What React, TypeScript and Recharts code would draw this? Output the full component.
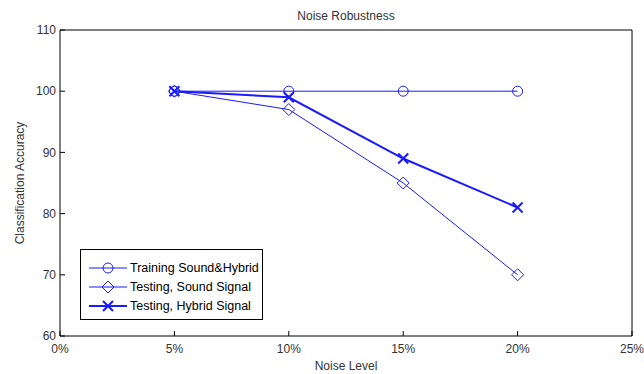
import React from "react";
import {
  LineChart,
  Line,
  XAxis,
  YAxis,
  Legend,
} from "recharts";

const noiseLevels = [5, 10, 15, 20];
const trainingSoundHybrid = [100, 100, 100, 100];
const testingSound = [100, 97, 85, 70];
const testingHybrid = [100, 99, 89, 81];

const xTicks = [0, 5, 10, 15, 20, 25];
const yTicks = [60, 70, 80, 90, 100, 110];

const seriesNames = [
  "Training Sound&Hybrid",
  "Testing, Sound Signal",
  "Testing, Hybrid Signal",
];

const data = noiseLevels.map((level, i) => ({
  level,
  training: trainingSoundHybrid[i],
  sound: testingSound[i],
  hybrid: testingHybrid[i],
}));

const BLUE = "#1a1aff";
const FONT = "'Liberation Sans', Arial, sans-serif";
const TEXT = "#333";

type Shape = "circle" | "diamond" | "cross";

function Marker({ cx, cy, shape, width }: { cx: number; cy: number; shape: Shape; width: number }) {
  if (shape === "circle") {
    return <circle cx={cx} cy={cy} r={5} fill="none" stroke={BLUE} strokeWidth={1} />;
  }
  if (shape === "diamond") {
    const s = 6;
    return (
      <path
        d={`M${cx},${cy - s}L${cx + s},${cy}L${cx},${cy + s}L${cx - s},${cy}Z`}
        fill="none"
        stroke={BLUE}
        strokeWidth={1}
      />
    );
  }
  const s = 5;
  return (
    <path
      d={`M${cx - s},${cy - s}L${cx + s},${cy + s}M${cx - s},${cy + s}L${cx + s},${cy - s}`}
      fill="none"
      stroke={BLUE}
      strokeWidth={width}
    />
  );
}

const makeDot = (shape: Shape, width: number) => (props: any) => {
  const { cx, cy, index } = props;
  if (cx == null || cy == null) return <g key={index} />;
  return <Marker key={index} cx={cx} cy={cy} shape={shape} width={width} />;
};

const legendItems: { name: string; shape: Shape; width: number }[] = [
  { name: seriesNames[0], shape: "circle", width: 1 },
  { name: seriesNames[1], shape: "diamond", width: 1 },
  { name: seriesNames[2], shape: "cross", width: 2 },
];

function LegendBox() {
  return (
    <div
      style={{
        border: "1px solid #000",
        background: "#fff",
        width: 181,
        padding: "8px 0 4px 0",
        fontFamily: FONT,
        fontSize: 12.5,
        color: "#000",
        boxSizing: "content-box",
        textAlign: "left",
      }}
    >
      {legendItems.map((item) => (
        <div key={item.name} style={{ display: "flex", alignItems: "center", height: 19 }}>
          <svg width={49} height={16} style={{ display: "block", flexShrink: 0 }}>
            <line x1={8} y1={8} x2={46} y2={8} stroke={BLUE} strokeWidth={item.width} />
            <Marker cx={27} cy={8} shape={item.shape} width={item.width} />
          </svg>
          <span style={{ whiteSpace: "nowrap" }}>{item.name}</span>
        </div>
      ))}
    </div>
  );
}

function YLabel() {
  return (
    <text
      transform="translate(21,183) rotate(-90)"
      textAnchor="middle"
      dominantBaseline="middle"
      fontFamily={FONT}
      fontSize={12}
      fill={TEXT}
    >
      Classification Accuracy
    </text>
  );
}

function XLabel() {
  return (
    <text x={346} y={370} textAnchor="middle" fontFamily={FONT} fontSize={12} fill={TEXT}>
      Noise Level
    </text>
  );
}

function Title() {
  return (
    <text x={346} y={20} textAnchor="middle" fontFamily={FONT} fontSize={12} fill={TEXT}>
      Noise Robustness
    </text>
  );
}

const tickStyle = { fontFamily: FONT, fontSize: 12, fill: TEXT };

export default function App() {
  return (
    <div style={{ position: "absolute", left: 0, top: 0, width: 644, height: 374, background: "#fff" }}>
      <LineChart
        width={644}
        height={374}
        data={data}
        margin={{ top: 29, right: 11, bottom: 0, left: 0 }}
      >
        <XAxis
          xAxisId="bottom"
          dataKey="level"
          type="number"
          domain={[0, 25]}
          ticks={xTicks}
          tickFormatter={(v) => `${v}%`}
          height={38}
          stroke="#000"
          tickSize={-5}
          tickMargin={13}
          tick={tickStyle}
          interval={0}
          label={<XLabel />}
        />
        <XAxis
          xAxisId="top"
          orientation="top"
          dataKey="level"
          type="number"
          domain={[0, 25]}
          ticks={xTicks}
          height={1}
          stroke="#000"
          tickSize={-5}
          tick={false}
          interval={0}
          label={<Title />}
        />
        <YAxis
          yAxisId="left"
          type="number"
          domain={[60, 110]}
          ticks={yTicks}
          width={60}
          stroke="#000"
          tickSize={-5}
          tickMargin={9}
          tick={tickStyle}
          interval={0}
          label={<YLabel />}
        />
        <YAxis
          yAxisId="right"
          orientation="right"
          type="number"
          domain={[60, 110]}
          ticks={yTicks}
          width={1}
          stroke="#000"
          tickSize={-5}
          tick={false}
          interval={0}
        />
        <Legend
          layout="horizontal"
          verticalAlign="middle"
          align="center"
          content={() => <LegendBox />}
          wrapperStyle={{ position: "absolute", left: 80, top: 249, width: "auto", height: "auto" }}
        />
        <Line
          xAxisId="bottom"
          yAxisId="left"
          dataKey="training"
          name={seriesNames[0]}
          stroke={BLUE}
          strokeWidth={1}
          dot={makeDot("circle", 1)}
          isAnimationActive={false}
        />
        <Line
          xAxisId="bottom"
          yAxisId="left"
          dataKey="sound"
          name={seriesNames[1]}
          stroke={BLUE}
          strokeWidth={1}
          dot={makeDot("diamond", 1)}
          isAnimationActive={false}
        />
        <Line
          xAxisId="bottom"
          yAxisId="left"
          dataKey="hybrid"
          name={seriesNames[2]}
          stroke={BLUE}
          strokeWidth={2}
          dot={makeDot("cross", 2)}
          isAnimationActive={false}
        />
      </LineChart>
    </div>
  );
}
